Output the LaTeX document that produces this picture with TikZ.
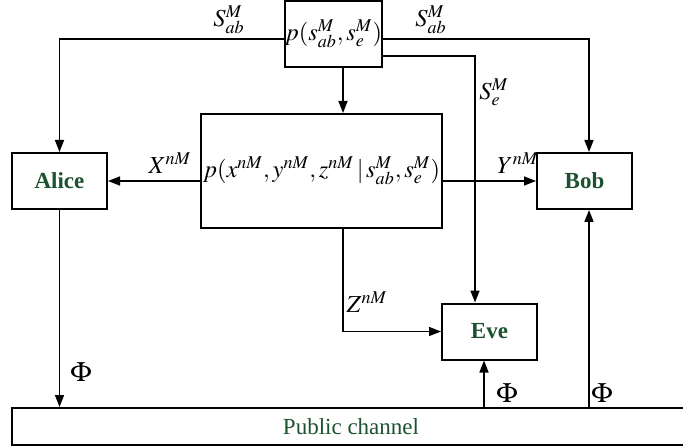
\documentclass[tikz,border=0pt]{standalone}
\usepackage{amsmath}
\usepackage{mathptmx}
\usepackage{fontspec}
\setmainfont{Liberation Serif}
\usepackage{tikz}
\usetikzlibrary{arrows.meta}
\definecolor{namegreen}{RGB}{28,82,48}

\begin{document}
\begin{tikzpicture}[x=0.5pt, y=-0.5pt, font=\fontsize{12.2}{14}\selectfont,
    box/.style={draw, line width=1pt, rectangle, inner sep=0pt},
    party/.style={box, minimum width=47.5pt, minimum height=28pt, text=namegreen, font=\fontsize{11.5}{13.5}\selectfont\bfseries},
    arr/.style={-{Triangle[length=6pt, width=4.5pt]}, line width=0.8pt},
    lab/.style={inner sep=0pt},
    philab/.style={lab, font=\fontsize{14}{16}\selectfont}]
            \useasboundingbox (0,0) rectangle (683,448);
            % Nodos
            \node[box, minimum width=47.5pt, minimum height=33pt] (src) at (333.5,34) {$p(s^{M}_{ab},s^{M}_{e})$};
            \node[box, minimum width=120.5pt, minimum height=57pt] (chan) at (321.5,171) {$p(x^{nM},y^{nM},z^{nM}\,|\,s^{M}_{ab},s^{M}_{e})$};
            \node[party] (alice) at (59.5,181) {Alice};
            \node[party] (bob) at (584.5,181) {Bob};
            \node[party] (eve) at (489.5,331.5) {Eve};
            \node[box, minimum width=339pt, minimum height=18.5pt, text=namegreen, font=\fontsize{11.5}{13.5}\selectfont] (pub) at (351,426.5) {Public channel};

            % Etiquetas
            \node[lab] (sableft) at (229,20) {$S^{M}_{ab}$};
            \node[lab] (sabright) at (431,20) {$S^{M}_{ab}$};
            \node[lab] (se) at (494,92) {$S^{M}_{e}$};
            \node[lab] (xlab) at (170,163) {$X^{nM}$};
            \node[lab] (ylab) at (518,163) {$Y^{nM}$};
            \node[lab] (zlab) at (367,302) {$Z^{nM}$};
            \node[philab] (phialice) at (81,372) {$\Phi$};
            \node[philab] (phieve) at (507,393) {$\Phi$};
            \node[philab] (phibob) at (602,393) {$\Phi$};

            % Aristas
            \draw[arr] ([yshift=-2.5pt]src.west) -| (alice.north);
            \draw[arr] ([yshift=-2.5pt]src.east) -| ([xshift=2.25pt]bob.north);
            \draw[arr] ([yshift=-11pt]src.east) -| ([xshift=-7.25pt]eve.north);
            \draw[arr] ([xshift=4.75pt]src.south) -- ([xshift=4.75pt]src.south |- chan.north);
            \draw[arr] (chan.west |- alice.east) -- (alice.east);
            \draw[arr] (chan.east |- bob.west) -- (bob.west);
            \draw[arr] ([xshift=10.75pt]chan.south) |- (eve.west);
            \draw[arr] (alice.south) -- (alice.south |- pub.north);
            \draw[arr] ([xshift=-2.75pt]eve.south |- pub.north) -- ([xshift=-2.75pt]eve.south);
            \draw[arr] ([xshift=2.25pt]bob.south |- pub.north) -- ([xshift=2.25pt]bob.south);
          \end{tikzpicture}
\end{document}
